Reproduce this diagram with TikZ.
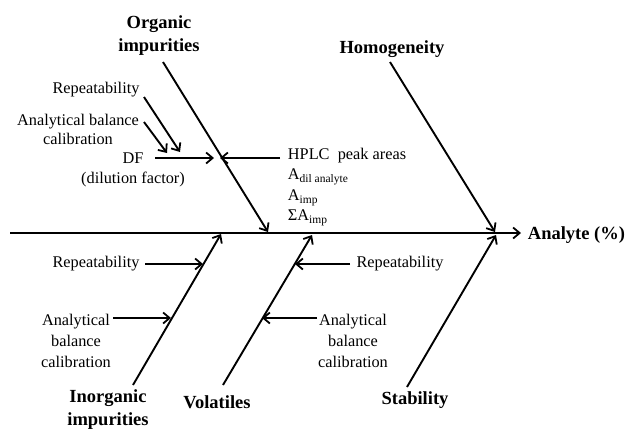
\documentclass[tikz,border=0pt]{standalone}
\usepackage{fontspec}
\setmainfont{Liberation Serif}
\usetikzlibrary{arrows.meta}
\newcommand{\subtxt}[1]{\raisebox{-0.45ex}{\fontsize{11.5}{12}\selectfont #1}}
\begin{document}
\begin{tikzpicture}[x=1pt,y=-1pt,line width=1.9pt,
  arr/.style={-{Straight Barb[length=6.5pt,width=11pt,line width=1.8pt]}},
  lbl/.style={font=\fontsize{16.3}{20}\selectfont,align=center,inner sep=1pt},
  head/.style={font=\bfseries\fontsize{18.5}{23}\selectfont,align=center,inner sep=1pt}]
\useasboundingbox (0,0) rectangle (625,429);

% spine
\coordinate (s0) at (10,233);
\node[head,anchor=west,inner sep=0pt] (analyte) at (527,235) {Analyte (\%)};
\coordinate (s1) at (521,233);
\draw[arr] (s0) -- (s1);

% main bones
\node[head] (org) at (159,36) {Organic\\impurities};
\coordinate (o1) at (163,62);
\coordinate (o2) at (268,232);
\draw[arr] (o1) -- (o2);

\node[head] (hom) at (392,49) {Homogeneity};
\coordinate (h1) at (390,62);
\coordinate (h2) at (495,232);
\draw[arr] (h1) -- (h2);

\node[head] (stab) at (415,400) {Stability};
\coordinate (t1) at (407,387);
\coordinate (t2) at (496,235);
\draw[arr] (t1) -- (t2);

\node[head] (inorg) at (108,410) {Inorganic\\impurities};
\coordinate (i1) at (133,385);
\coordinate (i2) at (221,234);
\draw[arr] (i1) -- (i2);

\node[head] (vol) at (217,402) {Volatiles};
\coordinate (v1) at (223,385);
\coordinate (v2) at (312,235);
\draw[arr] (v1) -- (v2);

% organic impurities sub-causes
\node[lbl] (rep1) at (96,90) {Repeatability};
\coordinate (r1a) at (144,97);
\coordinate (r1b) at (180,152);
\draw[arr] (r1a) -- (r1b);

\node[lbl,font=\fontsize{16.3}{19}\selectfont] (abc1) at (78,129) {Analytical balance\\calibration};
\coordinate (a1a) at (144,122);
\coordinate (a1b) at (167,153);
\draw[arr] (a1a) -- (a1b);

\node[lbl] (df) at (133,170) {DF\\(dilution factor)};
\coordinate (d1a) at (155,158);
\coordinate (d1b) at (214,158);
\draw[arr] (d1a) -- (d1b);

\node[lbl,anchor=west] (hplc) at (286,156) {HPLC\ \ peak areas};
\coordinate (p1a) at (280,158);
\coordinate (p1b) at (220,158);
\draw[arr] (p1a) -- (p1b);

\node[lbl,anchor=west] (adil) at (286,177) {A\subtxt{dil analyte}};
\node[lbl,anchor=west] (aimp) at (286,198) {A\subtxt{imp}};
\node[lbl,anchor=west] (sumimp) at (286,218) {ΣA\subtxt{imp}};

% inorganic impurities sub-causes
\node[lbl] (rep2) at (96,264) {Repeatability};
\coordinate (r2a) at (145,264);
\coordinate (r2b) at (203,264);
\draw[arr] (r2a) -- (r2b);

\node[lbl,font=\fontsize{16.3}{21}\selectfont] (abc2) at (76,341) {Analytical\\balance\\calibration};
\coordinate (a2a) at (113,318);
\coordinate (a2b) at (171,318);
\draw[arr] (a2a) -- (a2b);

% volatiles sub-causes
\node[lbl] (rep3) at (400,264) {Repeatability};
\coordinate (r3a) at (350,264);
\coordinate (r3b) at (295,264);
\draw[arr] (r3a) -- (r3b);

\node[lbl,font=\fontsize{16.3}{21}\selectfont] (abc3) at (353,341) {Analytical\\balance\\calibration};
\coordinate (a3a) at (317,318);
\coordinate (a3b) at (262,318);
\draw[arr] (a3a) -- (a3b);
\end{tikzpicture}
\end{document}
